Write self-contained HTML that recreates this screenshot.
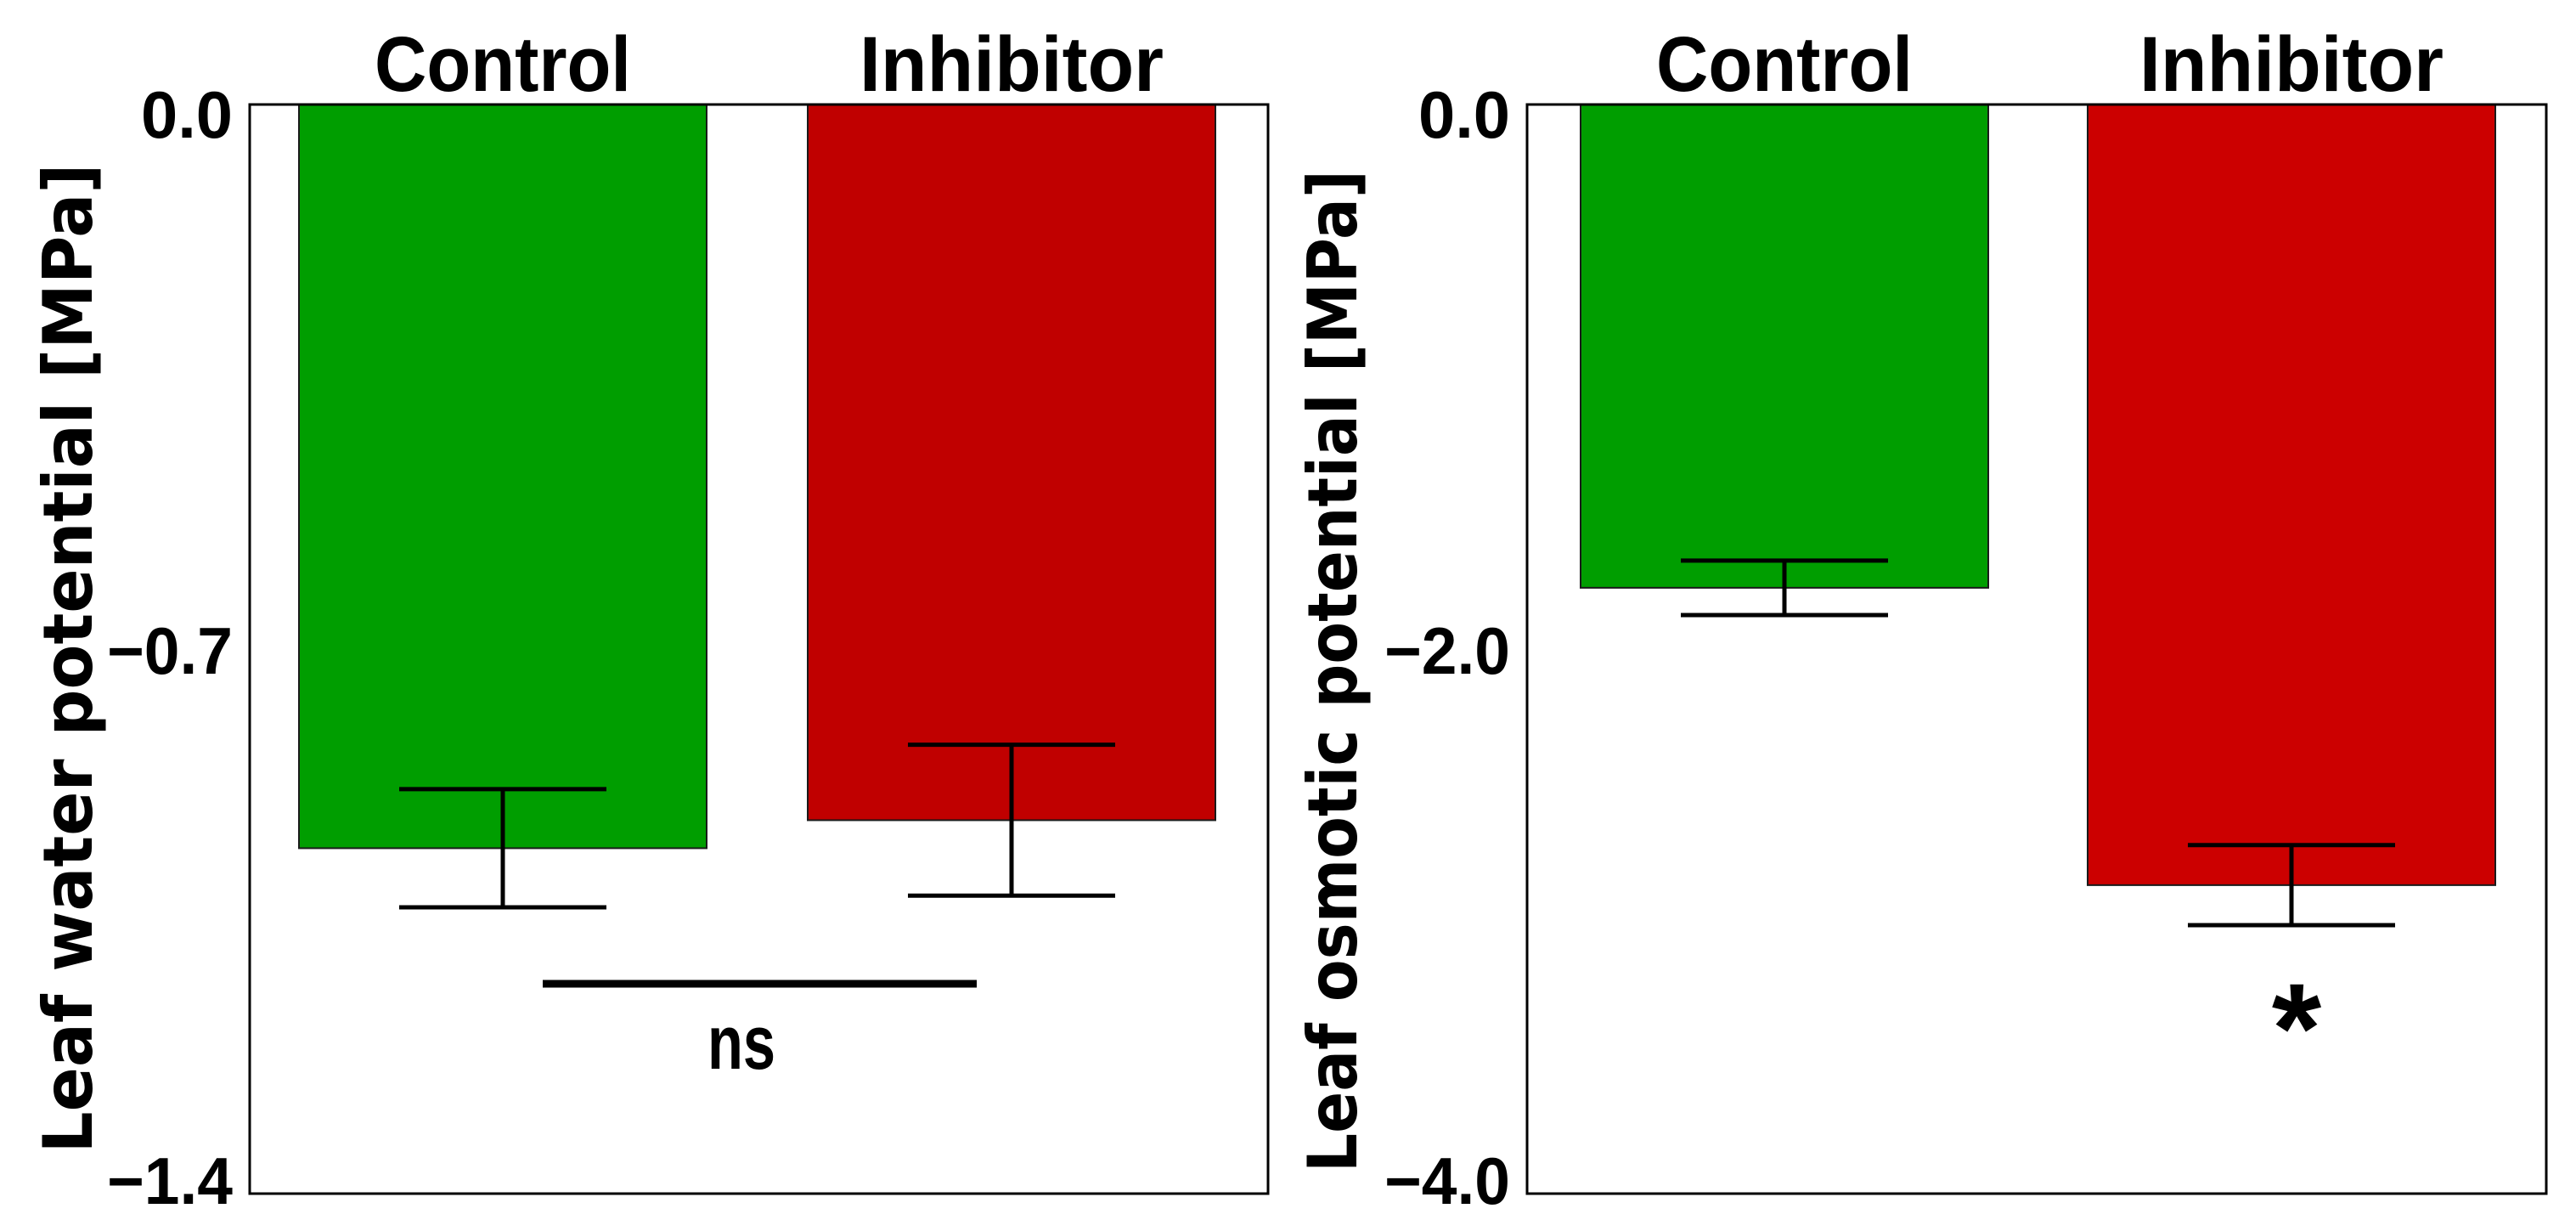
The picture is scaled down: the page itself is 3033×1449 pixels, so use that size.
<!DOCTYPE html>
<html><head><meta charset="utf-8"><style>
html,body{margin:0;padding:0;background:#fff;width:3033px;height:1449px;overflow:hidden}
svg text{font-family:"Liberation Sans",sans-serif;font-weight:bold;fill:#000}
</style></head><body>
<svg id="chart" width="3033" height="1449" viewBox="0 0 3033 1449" xmlns="http://www.w3.org/2000/svg"></svg>
<script>
const categories = ["Control", "Inhibitor"];
const waterValues = [-0.956, -0.920];
const waterErrors = [0.076, 0.097];
const waterTicks = ["0.0", "\u22120.7", "\u22121.4"];
const waterTickValues = [0, -0.7, -1.4];
const osmoValues = [-1.775, -2.867];
const osmoErrors = [0.10, 0.147];
const osmoTicks = ["0.0", "\u22122.0", "\u22124.0"];
const osmoTickValues = [0, -2.0, -4.0];

const NS = "http://www.w3.org/2000/svg";
const svg = document.getElementById("chart");
function mk(tag, attrs, parent) {
  const e = document.createElementNS(NS, tag);
  for (const k in attrs) e.setAttribute(k, attrs[k]);
  (parent || svg).appendChild(e);
  return e;
}
const colors = ["#009e00", "#c00000"];
const colorsR = ["#009e00", "#cc0000"];
const labelLens = [302, 358];
const tickBaselineOffsets = [39, 29, 12];

function panel(cfg) {
  const g = mk("g", {});
  
  
  const top = 123, bottom = 1405;
  const y = v => top + (v - 0) / (cfg.min - 0) * (bottom - top);
  const bw = 480;
  cfg.values.forEach((v, i) => {
    const x = cfg.barX[i];
    const r = mk("rect", {x: x, y: y(0), width: bw, height: y(v) - y(0), fill: cfg.colors[i], stroke: "#1a1a1a", "stroke-width": 2}, g);
    
    
    const cx = x + bw / 2, e = cfg.errors[i];
    const eb = mk("path", {d: `M${cx-122},${y(v+e)}H${cx+122}M${cx},${y(v+e)}V${y(v-e)}M${cx-122},${y(v-e)}H${cx+122}`, stroke: "#000", "stroke-width": 5, fill: "none"}, g);
    
    
    const t = mk("text", {x: cx, y: 107, "font-size": 92, "text-anchor": "middle", textLength: labelLens[i], lengthAdjust: "spacingAndGlyphs"}, g);
    t.textContent = categories[i];
    
    
  });
  const box = mk("rect", {x: cfg.left, y: top, width: cfg.right - cfg.left, height: bottom - top, fill: "none", stroke: "#000", "stroke-width": 3}, g);
  
  
  cfg.tickValues.forEach((tv, i) => {
    const t = mk("text", {x: cfg.left - 20, y: y(tv) + tickBaselineOffsets[i], "font-size": 78, "text-anchor": "end", textLength: cfg.ticks[i].length > 3 ? 148 : 108, lengthAdjust: "spacingAndGlyphs"}, g);
    t.textContent = cfg.ticks[i];
    
    
  });
  const tt = mk("text", {x: 0, y: 0, "font-size": 80, "text-anchor": "middle", transform: `translate(${cfg.titleX},${cfg.titleY}) rotate(-90)`, textLength: cfg.titleLen, lengthAdjust: "spacingAndGlyphs", style: "font-family:'DejaVu Sans',sans-serif"}, g);
  tt.textContent = cfg.title;
  
  
  return {g, y};
}

const L = panel({name: "water-potential-panel", left: 294, right: 1493, min: -1.4, values: waterValues, errors: waterErrors,
  ticks: waterTicks, tickValues: waterTickValues, colors: colors, barX: [352, 951],
  title: "Leaf water potential [MPa]", titleX: 108, titleY: 775, titleLen: 1165});
const R = panel({name: "osmotic-potential-panel", left: 1798, right: 2998, min: -4.0, values: osmoValues, errors: osmoErrors,
  ticks: osmoTicks, tickValues: osmoTickValues, colors: colorsR, barX: [1861, 2458],
  title: "Leaf osmotic potential [MPa]", titleX: 1597, titleY: 790, titleLen: 1180});

const nsLine = mk("line", {x1: 639, x2: 1150, y1: 1158, y2: 1158, stroke: "#000", "stroke-width": 9});


const ns = mk("text", {x: 873, y: 1258, "font-size": 90, "text-anchor": "middle", textLength: 80, lengthAdjust: "spacingAndGlyphs"});
ns.textContent = "ns";


const star = mk("text", {x: 2704, y: 1262, "font-size": 150, "text-anchor": "middle"});
star.textContent = "*";


</script>
</body></html>
